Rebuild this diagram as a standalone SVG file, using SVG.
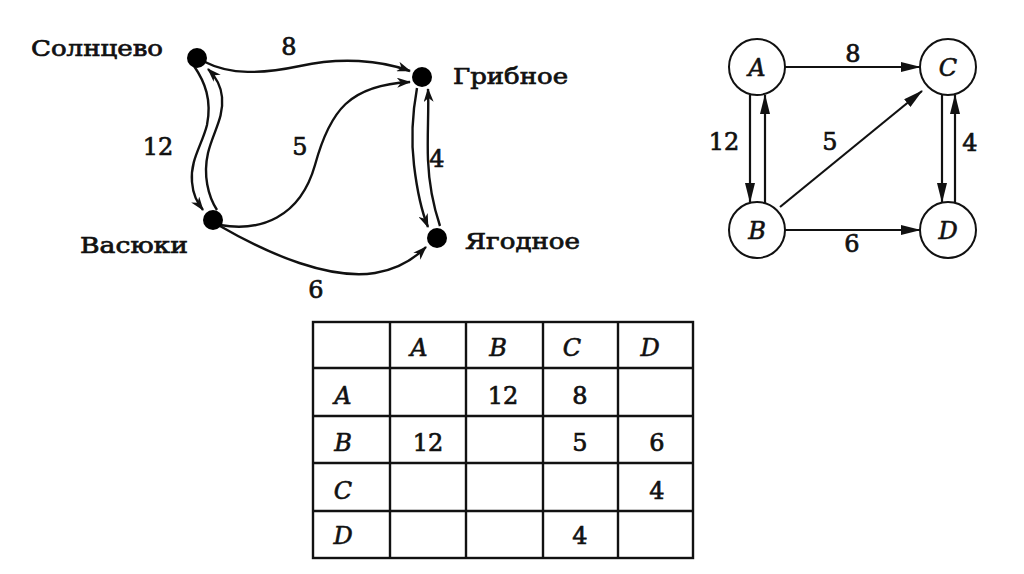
<svg xmlns="http://www.w3.org/2000/svg" width="1024" height="574" viewBox="0 0 1024 574">
<style>
.lbl{font-family:"DejaVu Serif","Liberation Serif",serif;font-size:22px;fill:#111;stroke:#111;stroke-width:0.7}
.num{font-family:"DejaVu Serif","Liberation Serif",serif;font-size:24px;fill:#111;stroke:#111;stroke-width:0.7;text-anchor:middle}
.let{font-family:"DejaVu Serif","Liberation Serif",serif;font-style:italic;font-size:24px;fill:#111;stroke:#111;stroke-width:0.6;text-anchor:middle}
.cur{fill:none;stroke:#111;stroke-width:2.4;marker-end:url(#ah)}
.ln{fill:none;stroke:#111;stroke-width:2.2;marker-end:url(#ar)}
.dot{fill:#000}
.cir{fill:#fff;stroke:#111;stroke-width:2}
.grid{fill:none;stroke:#111;stroke-width:2.4}
</style>
<defs>
<marker id="ah" markerUnits="userSpaceOnUse" markerWidth="14" markerHeight="10" refX="13" refY="5" orient="auto">
<path d="M0,0 L14,5 L0,10 L4,5 z" fill="#111"/>
</marker>
<marker id="ar" markerUnits="userSpaceOnUse" markerWidth="20" markerHeight="10" refX="19" refY="5" orient="auto">
<path d="M0,0 L20,5 L0,10 z" fill="#111"/>
</marker>
</defs>
<rect width="1024" height="574" fill="#fff"/>

<g id="connectors-left">
<path class="cur" d="M205 62 C230 75 262 74 300 66 C340 57 380 60 410 71"/>
<path class="cur" d="M220 225 C260 232 300 218 315 165 C330 110 350 85 410 82"/>
<path class="cur" d="M220 226 C270 255 330 280 375 273 C400 269 415 258 426 247"/>
<path class="cur" d="M194 66 C205 82 212 100 207 125 C202 145 190 160 192 182 C193 195 197 202 203 210"/>
<path class="cur" d="M217 210 C208 196 203 175 208 153 C213 132 224 118 222 97 C221 86 216 77 208 69"/>
<path class="cur" d="M417 88 C413 110 411 140 414 165 C417 190 421 210 428 227"/>
<path class="cur" d="M440 226 C433 205 429 185 428 160 C427 135 429 110 428 89"/>
<text class="num" x="289" y="55">8</text>
<text class="num" x="158" y="155">12</text>
<text class="num" x="300" y="155">5</text>
<text class="num" x="437" y="167">4</text>
<text class="num" x="316" y="298">6</text>
</g>

<g id="node-solntsevo">
<circle class="dot" cx="197" cy="58" r="10"/>
<text class="lbl" x="31" y="56" textLength="132" lengthAdjust="spacingAndGlyphs">Солнцево</text>
</g>
<g id="node-gribnoe">
<circle class="dot" cx="422" cy="77" r="10"/>
<text class="lbl" x="453" y="84" textLength="115" lengthAdjust="spacingAndGlyphs">Грибное</text>
</g>
<g id="node-vasyuki">
<circle class="dot" cx="213" cy="220" r="10"/>
<text class="lbl" x="80" y="253" textLength="108" lengthAdjust="spacingAndGlyphs">Васюки</text>
</g>
<g id="node-yagodnoe">
<circle class="dot" cx="437" cy="238" r="10"/>
<text class="lbl" x="465" y="249" textLength="115" lengthAdjust="spacingAndGlyphs">Ягодное</text>
</g>

<g id="connectors-right">
<line class="ln" x1="785" y1="67" x2="920" y2="67"/>
<line class="ln" x1="750" y1="95" x2="750" y2="202"/>
<line class="ln" x1="765" y1="203" x2="765" y2="95"/>
<line class="ln" x1="780" y1="207" x2="922" y2="91"/>
<line class="ln" x1="785" y1="230" x2="920" y2="230"/>
<line class="ln" x1="942" y1="95" x2="942" y2="202"/>
<line class="ln" x1="955" y1="203" x2="955" y2="95"/>
<text class="num" x="853" y="62">8</text>
<text class="num" x="724" y="150">12</text>
<text class="num" x="830" y="150">5</text>
<text class="num" x="970" y="151">4</text>
<text class="num" x="852" y="252">6</text>
</g>

<g id="node-A"><circle class="cir" cx="757" cy="67" r="28"/><text class="let" x="757" y="76">A</text></g>
<g id="node-C"><circle class="cir" cx="948" cy="67" r="28"/><text class="let" x="948" y="76">C</text></g>
<g id="node-B"><circle class="cir" cx="757" cy="230" r="28"/><text class="let" x="757" y="239">B</text></g>
<g id="node-D"><circle class="cir" cx="948" cy="230" r="28"/><text class="let" x="948" y="239">D</text></g>

<g id="table">
<rect class="grid" x="313" y="322" width="380" height="236"/>
<line class="grid" x1="390" y1="322" x2="390" y2="558"/>
<line class="grid" x1="466" y1="322" x2="466" y2="558"/>
<line class="grid" x1="543" y1="322" x2="543" y2="558"/>
<line class="grid" x1="618" y1="322" x2="618" y2="558"/>
<line class="grid" x1="313" y1="368" x2="693" y2="368"/>
<line class="grid" x1="313" y1="416" x2="693" y2="416"/>
<line class="grid" x1="313" y1="463" x2="693" y2="463"/>
<line class="grid" x1="313" y1="511" x2="693" y2="511"/>
<text class="let" x="419" y="356">A</text>
<text class="let" x="498" y="356">B</text>
<text class="let" x="572" y="356">C</text>
<text class="let" x="650" y="356">D</text>
<text class="let" x="343" y="404">A</text>
<text class="let" x="343" y="451">B</text>
<text class="let" x="343" y="499">C</text>
<text class="let" x="343" y="544">D</text>
<text class="num" x="503" y="404">12</text>
<text class="num" x="580" y="404">8</text>
<text class="num" x="428" y="451">12</text>
<text class="num" x="580" y="451">5</text>
<text class="num" x="657" y="451">6</text>
<text class="num" x="657" y="499">4</text>
<text class="num" x="580" y="544">4</text>
</g>
</svg>
